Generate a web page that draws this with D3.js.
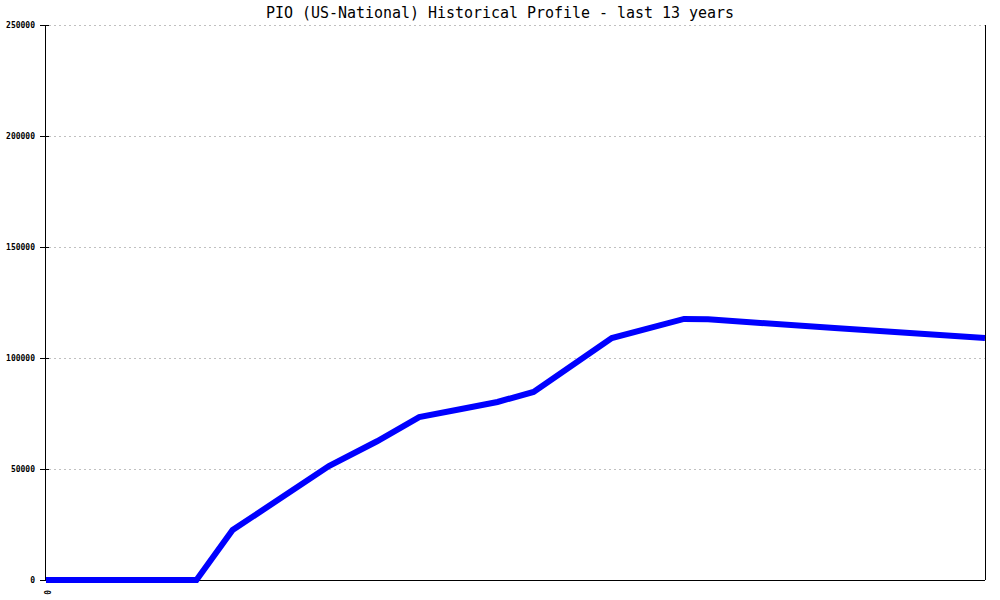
<!DOCTYPE html>
<html>
<head>
<meta charset="utf-8">
<script src="https://cdn.jsdelivr.net/npm/d3@7"></script>
<style>
  body { margin: 0; background: #fff; }
  .title { font-family: "DejaVu Sans Mono", monospace; font-size: 16px; }
  .tick text { font-family: "DejaVu Sans Mono", monospace; font-size: 8px; font-weight: bold; }
</style>
</head>
<body>
<div id="chart"></div>
<script>
//Chart data - months since start of the 13 year window, and population values
var titleText = "PIO (US-National) Historical Profile - last 13 years";
var months = [0, 25, 31, 47, 55, 62, 69, 75, 81, 94, 106, 110, 131, 156];
var values = [0, 0, 22500, 51300, 62500, 73400, 77000, 80200, 84700, 109000, 117600, 117400, 113500, 109000];
var yTicks = [0, 50000, 100000, 150000, 200000, 250000];
var xTicks = [0];

///////////////////////////////////////////////////////////////////////////
//////////////////////////// Set up the SVG ///////////////////////////////
///////////////////////////////////////////////////////////////////////////

var margin = {top: 25, right: 15, bottom: 20, left: 46};
var width = 1000 - margin.left - margin.right;
var height = 600 - margin.top - margin.bottom;

var svg = d3.select("#chart")
	.append("svg")
	.attr("width", 1000)
	.attr("height", 600)
	.style("display", "block");

var g = svg.append("g")
	.attr("transform", "translate(" + margin.left + "," + margin.top + ")");

var x = d3.scaleLinear().domain([0, 156]).range([0, width]);
var y = d3.scaleLinear().domain([0, 250000]).range([height, 0]);

//Title
svg.append("text")
	.attr("class", "title")
	.attr("x", 500)
	.attr("y", 18)
	.attr("text-anchor", "middle")
	.attr("textLength", 468)
	.attr("lengthAdjust", "spacingAndGlyphs")
	.text(titleText);

///////////////////////////////////////////////////////////////////////////
/////////////////////////////// Gridlines /////////////////////////////////
///////////////////////////////////////////////////////////////////////////

g.selectAll(".grid")
	.data(yTicks.filter(function(d) { return d > 0; }))
	.enter().append("line")
	.attr("class", "grid")
	.attr("x1", 3)
	.attr("x2", width)
	.attr("y1", function(d) { return y(d) + 0.5; })
	.attr("y2", function(d) { return y(d) + 0.5; })
	.style("stroke", "#c0c0c0")
	.style("stroke-dasharray", "2,3");

///////////////////////////////////////////////////////////////////////////
///////////////////////////////// Axes ////////////////////////////////////
///////////////////////////////////////////////////////////////////////////

var yAxis = g.append("g")
	.call(d3.axisLeft(y).tickValues(yTicks).tickSize(6).tickPadding(5).tickFormat(d3.format("d")));
yAxis.select(".domain").remove();
yAxis.selectAll(".tick line").attr("x2", 3).attr("x1", -6).style("stroke", "#000");

var xAxis = g.append("g")
	.attr("transform", "translate(0," + height + ")")
	.call(d3.axisBottom(x).tickValues(xTicks).tickSize(0).tickFormat(d3.format("d")));
xAxis.select(".domain").remove();
xAxis.selectAll(".tick text")
	.attr("transform", "rotate(90)")
	.attr("x", 10)
	.attr("y", 0)
	.attr("dy", "0.35em")
	.style("text-anchor", "start");

//Frame lines: left, right and bottom
g.append("line").attr("x1", -0.5).attr("x2", -0.5).attr("y1", 0).attr("y2", height).style("stroke", "#000");
g.append("line").attr("x1", width + 0.5).attr("x2", width + 0.5).attr("y1", 0).attr("y2", height).style("stroke", "#000");
g.append("line").attr("x1", 0).attr("x2", width).attr("y1", height + 0.5).attr("y2", height + 0.5).style("stroke", "#000");

///////////////////////////////////////////////////////////////////////////
///////////////////////////////// Line ////////////////////////////////////
///////////////////////////////////////////////////////////////////////////

var line = d3.line()
	.x(function(d) { return x(d[0]); })
	.y(function(d) { return y(d[1]); });

g.append("path")
	.datum(d3.zip(months, values))
	.attr("d", line)
	.style("fill", "none")
	.style("stroke", "#0000ff")
	.style("stroke-width", 6);
</script>
</body>
</html>
